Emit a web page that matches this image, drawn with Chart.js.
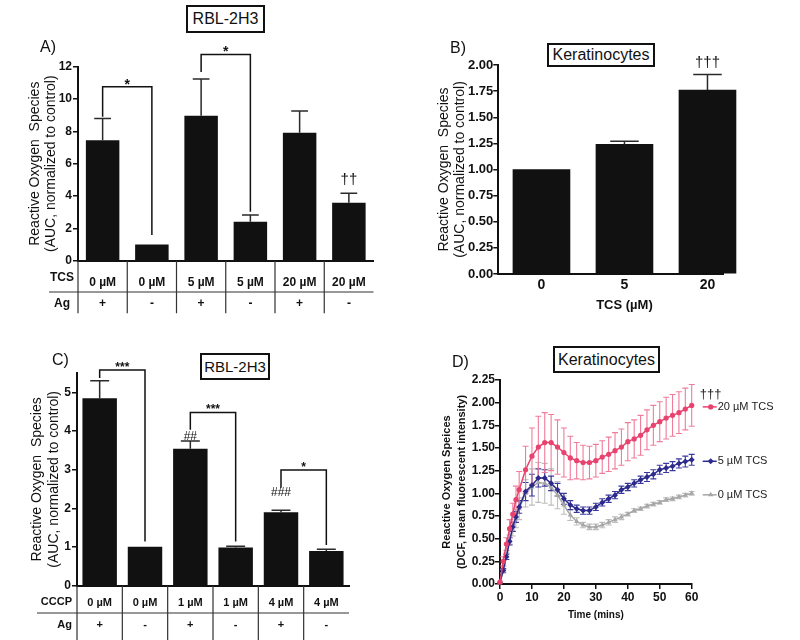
<!DOCTYPE html>
<html lang="en">
<head>
<meta charset="UTF-8">
<script src="https://cdn.jsdelivr.net/npm/chart.js"></script>
<style>
  body { margin: 0; background: #fff; width: 800px; height: 640px; position: relative; overflow: hidden;
         font-family: "Liberation Sans", Arial, sans-serif; color: #111; }
  canvas { position: absolute; }
  .box { position: absolute; border: 2px solid #111; box-sizing: border-box; text-align: center; background: #fff; }
  .tag { position: absolute; font-size: 16px; line-height: 18px; }
</style>
<title>ROS panels</title>
</head>
<body>

<canvas id="chartA" width="400" height="330" style="left:0;top:0"></canvas>
<canvas id="chartB" width="400" height="330" style="left:400px;top:0"></canvas>
<canvas id="chartC" width="400" height="310" style="left:0;top:330px"></canvas>
<canvas id="chartD" width="400" height="310" style="left:400px;top:330px"></canvas>

<div class="box" style="left:186px;top:5px;width:79px;height:28px;font-size:16px;line-height:24px">RBL-2H3</div>
<div class="box" style="left:547px;top:43px;width:108px;height:24px;font-size:16px;line-height:20px">Keratinocytes</div>
<div class="box" style="left:200px;top:353px;width:70px;height:27px;font-size:15px;line-height:23px">RBL-2H3</div>
<div class="box" style="left:553px;top:346px;width:107px;height:27px;font-size:16px;line-height:23px">Keratinocytes</div>
<div class="tag" style="left:40px;top:38px">A)</div>
<div class="tag" style="left:450px;top:39px">B)</div>
<div class="tag" style="left:52px;top:351px">C)</div>
<div class="tag" style="left:452px;top:353px">D)</div>

<script>
    Chart.defaults.font.family = '"Liberation Sans", Arial, sans-serif';
    Chart.defaults.color = '#111';
    Chart.defaults.animation = false;

    // ---- A) RBL-2H3, TCS +/- antigen
    const aTcs = ['0 µM', '0 µM', '5 µM', '5 µM', '20 µM', '20 µM'];
    const aAg = ['+', '-', '+', '-', '+', '-'];
    const aRos = [7.45, 1.0, 8.97, 2.41, 7.92, 3.59];
    const aSem = [1.35, 0, 2.27, 0.42, 1.34, 0.58];
    const aTicks = [0, 2, 4, 6, 8, 10, 12];

    // ---- B) Keratinocytes, TCS dose
    const bDose = ['0', '5', '20'];
    const bRos = [1.0, 1.24, 1.76];
    const bSem = [0, 0.03, 0.15];
    const bTicks = [0, 0.25, 0.5, 0.75, 1.0, 1.25, 1.5, 1.75, 2.0];

    // ---- C) RBL-2H3, CCCP +/- antigen
    const cCccp = ['0 µM', '0 µM', '1 µM', '1 µM', '4 µM', '4 µM'];
    const cAg = ['+', '-', '+', '-', '+', '-'];
    const cRos = [4.85, 1.01, 3.54, 0.99, 1.9, 0.9];
    const cSem = [0.45, 0, 0.2, 0.03, 0.05, 0.04];
    const cTicks = [0, 1, 2, 3, 4, 5];

    // ---- D) Keratinocytes, time course
    const timeMin = [0, 1, 2, 3, 4, 5, 6, 8, 10, 12, 14, 16, 18, 20, 22, 24, 26, 28, 30,
                     32, 34, 36, 38, 40, 42, 44, 46, 48, 50, 52, 54, 56, 58, 60];
    const tcs20 = [0.02, 0.25, 0.44, 0.61, 0.77, 0.93, 1.04, 1.26, 1.41, 1.51, 1.56, 1.56, 1.51, 1.45, 1.39, 1.36, 1.34,
                   1.34, 1.36, 1.40, 1.43, 1.47, 1.51, 1.57, 1.60, 1.64, 1.70, 1.75, 1.79, 1.83, 1.86, 1.89, 1.93, 1.97];
    const tcs20Sem = [0, 0.05, 0.07, 0.1, 0.12, 0.15, 0.2, 0.26, 0.31, 0.34, 0.33, 0.31, 0.30, 0.27, 0.24, 0.2, 0.19,
                      0.18, 0.18, 0.18, 0.19, 0.2, 0.2, 0.21, 0.21, 0.22, 0.22, 0.22, 0.22, 0.23, 0.23, 0.23, 0.23, 0.23];
    const tcs5 = [0.02, 0.15, 0.30, 0.47, 0.63, 0.74, 0.85, 1.02, 1.09, 1.17, 1.17, 1.11, 1.04, 0.94, 0.87, 0.83, 0.81,
                  0.81, 0.85, 0.90, 0.94, 0.98, 1.04, 1.07, 1.11, 1.15, 1.18, 1.21, 1.26, 1.28, 1.30, 1.33, 1.35, 1.37];
    const tcs5Sem = [0, 0.02, 0.03, 0.04, 0.05, 0.06, 0.07, 0.1, 0.12, 0.1, 0.09, 0.08, 0.07, 0.06, 0.05, 0.04, 0.04,
                     0.04, 0.04, 0.04, 0.04, 0.04, 0.04, 0.04, 0.04, 0.04, 0.05, 0.05, 0.05, 0.05, 0.05, 0.05, 0.06, 0.06];
    const tcs0 = [0.02, 0.14, 0.32, 0.49, 0.60, 0.72, 0.83, 1.00, 1.07, 1.12, 1.11, 1.07, 0.98, 0.87, 0.76, 0.69, 0.65,
                  0.63, 0.63, 0.65, 0.68, 0.71, 0.74, 0.77, 0.81, 0.83, 0.86, 0.88, 0.90, 0.93, 0.94, 0.96, 0.98, 1.00];
    const tcs0Sem = [0, 0.02, 0.03, 0.05, 0.07, 0.1, 0.12, 0.15, 0.2, 0.22, 0.22, 0.2, 0.15, 0.1, 0.06, 0.04, 0.03,
                     0.03, 0.03, 0.03, 0.03, 0.03, 0.03, 0.02, 0.02, 0.02, 0.02, 0.02, 0.02, 0.02, 0.02, 0.02, 0.02, 0.02];
    const dTicksX = [0, 10, 20, 30, 40, 50, 60];
    const dTicksY = [0, 0.25, 0.5, 0.75, 1.0, 1.25, 1.5, 1.75, 2.0, 2.25];

    const yTitle = ['Reactive Oxygen  Species', '(AUC, normalized to control)'];

    // significance brackets (values in data units)
    const aBrackets = [
        { from: 0, to: 1, top: 10.76, left: 8.9, right: 1.59, text: '*' },
        { from: 2, to: 3, top: 12.76, left: 11.67, right: 3.03, text: '*' }
    ];
    const cBrackets = [
        { from: 0, to: 1, top: 5.58, left: 5.37, right: 1.14, text: '***' },
        { from: 2, to: 3, top: 4.48, left: 4.03, right: 1.14, text: '***' },
        { from: 4, to: 5, top: 2.99, left: 2.53, right: 1.05, text: '*' }
    ];

    // helpers -------------------------------------------------------
    const fixW = w => (s => { s.width = w; });
    const fixH = h => (s => { s.height = h; });
    const useTicks = list => (s => { s.ticks = list.map(v => ({ value: v })); });

    function yAxis(opts) {
        return {
            min: opts.min, max: opts.max,
            afterFit: fixW(opts.width),
            afterBuildTicks: useTicks(opts.ticks),
            ticks: { font: { size: opts.tickSize || 12, weight: 'bold' }, padding: opts.tickPad || 0, color: '#111',
                     callback: opts.fmt || (v => v) },
            grid: { display: true, drawOnChartArea: false, drawTicks: true, tickLength: 5, color: '#111', lineWidth: 1.5 },
            border: { display: true, color: '#111', width: 2 },
            title: { display: true, text: opts.title, color: '#111',
                     font: { size: opts.titleSize, weight: opts.titleWeight || 'normal', lineHeight: opts.titleLH / opts.titleSize },
                     padding: { top: opts.titleX - opts.titleLH / 2, bottom: 0 } }
        };
    }

    function barErrors(vals, sems, cap) {
        return {
            id: 'barErrors',
            afterDatasetsDraw(chart) {
                const { ctx } = chart, y = chart.scales.y;
                const meta = chart.getDatasetMeta(0);
                ctx.save();
                ctx.strokeStyle = '#2a2a2a';
                ctx.lineWidth = 1.5;
                meta.data.forEach((bar, i) => {
                    if (!sems[i]) return;
                    const top = y.getPixelForValue(vals[i] + sems[i]);
                    const half = bar.width * cap / 2;
                    ctx.beginPath();
                    ctx.moveTo(bar.x, bar.y);
                    ctx.lineTo(bar.x, top);
                    ctx.moveTo(bar.x - half, top);
                    ctx.lineTo(bar.x + half, top);
                    ctx.stroke();
                });
                ctx.restore();
            }
        };
    }

    function brackets(list, font, dy) {
        return {
            id: 'brackets',
            afterDatasetsDraw(chart) {
                const { ctx, scales: { x, y } } = chart;
                ctx.save();
                ctx.strokeStyle = '#111';
                ctx.fillStyle = '#111';
                ctx.lineWidth = 1.5;
                ctx.font = font;
                ctx.textAlign = 'center';
                ctx.textBaseline = 'alphabetic';
                list.forEach(b => {
                    const x1 = x.getPixelForValue(b.from), x2 = x.getPixelForValue(b.to);
                    const yt = y.getPixelForValue(b.top);
                    ctx.beginPath();
                    ctx.moveTo(x1, y.getPixelForValue(b.left));
                    ctx.lineTo(x1, yt);
                    ctx.lineTo(x2, yt);
                    ctx.lineTo(x2, y.getPixelForValue(b.right));
                    ctx.stroke();
                    ctx.fillText(b.text, (x1 + x2) / 2, yt + dy);
                });
                ctx.restore();
            }
        };
    }

    function marks(list, font) {
        return {
            id: 'marks',
            afterDatasetsDraw(chart) {
                const { ctx, scales: { x, y } } = chart;
                ctx.save();
                ctx.fillStyle = '#111';
                ctx.font = font;
                ctx.textAlign = 'center';
                ctx.textBaseline = 'middle';
                list.forEach(m => ctx.fillText(m.text, x.getPixelForValue(m.at), y.getPixelForValue(m.value)));
                ctx.restore();
            }
        };
    }

    // treatment table under the x axis
    function table(cfg) {
        return {
            id: 'table',
            afterDraw(chart) {
                const { ctx, chartArea: ca, scales: { x } } = chart;
                const n = cfg.rows[0].length;
                const cw = (ca.right - ca.left) / n;
                ctx.save();
                ctx.strokeStyle = '#333';
                ctx.lineWidth = 1.2;
                ctx.beginPath();
                for (let i = 0; i < n; i++) {
                    const bx = x.getPixelForValue(i) - cw / 2;
                    ctx.moveTo(bx, ca.bottom);
                    ctx.lineTo(bx, ca.bottom + cfg.vDown);
                }
                ctx.moveTo(cfg.sepX0, ca.bottom + cfg.sepDy);
                ctx.lineTo(ca.right, ca.bottom + cfg.sepDy);
                ctx.stroke();
                ctx.fillStyle = '#111';
                ctx.font = cfg.font;
                ctx.textBaseline = 'middle';
                cfg.heads.forEach((h, r) => {
                    ctx.textAlign = cfg.headAlign;
                    ctx.fillText(h, cfg.headX, ca.bottom + cfg.headDy[r]);
                    ctx.textAlign = 'center';
                    cfg.rows[r].forEach((t, i) => ctx.fillText(t, x.getPixelForValue(i), ca.bottom + cfg.rowDy[r]));
                });
                ctx.restore();
            }
        };
    }

    // ---- A
    new Chart(document.getElementById('chartA'), {
        type: 'bar',
        data: {
            labels: aTcs.map((t, i) => t + ' ' + aAg[i]),
            datasets: [{ data: aRos, backgroundColor: '#111', categoryPercentage: 1, barPercentage: 0.68 }]
        },
        options: {
            responsive: false,
            layout: { padding: { left: 0, top: 66.7, right: 26.5, bottom: 0 } },
            plugins: { legend: { display: false }, tooltip: { enabled: false } },
            scales: {
                x: { offset: true, afterFit: fixH(69.3), ticks: { display: false },
                     grid: { display: false, drawTicks: false }, border: { display: true, color: '#111', width: 2 } },
                y: yAxis({ min: 0, max: 12, width: 78, ticks: aTicks, tickPad: 1, title: yTitle, titleSize: 14, titleLH: 16, titleX: 35.5 })
            }
        },
        plugins: [
            barErrors(aRos, aSem, 0.5),
            brackets(aBrackets, 'bold 14px "Liberation Sans", Arial', 2),
            marks([{ at: 5, value: 4.99, text: '††' }], '15px "Liberation Sans", Arial'),
            table({ heads: ['TCS', 'Ag'], rows: [aTcs, aAg], headX: 62, headAlign: 'center', headDy: [16.5, 43],
                    rowDy: [21.5, 42.5], sepDy: 31.3, sepX0: 49, vDown: 52.5, font: 'bold 12px "Liberation Sans", Arial' })
        ]
    });

    // ---- B
    new Chart(document.getElementById('chartB'), {
        type: 'bar',
        data: {
            datasets: [{ data: bRos.map((v, i) => ({ x: i, y: v })), backgroundColor: '#111', barThickness: 57, clip: false }]
        },
        options: {
            responsive: false,
            layout: { padding: { left: 0, top: 65, right: 77, bottom: 0 } },
            plugins: { legend: { display: false }, tooltip: { enabled: false } },
            scales: {
                x: { type: 'linear', offset: false, min: -0.52, max: 2.187, afterFit: fixH(56), afterBuildTicks: useTicks([0, 1, 2]),
                     ticks: { font: { size: 14, weight: 'bold' }, padding: 3, color: '#111', callback: v => bDose[v] },
                     grid: { display: false, drawTicks: false }, border: { display: true, color: '#111', width: 2 } },
                y: yAxis({ min: 0, max: 2, width: 98.3, ticks: bTicks, fmt: v => v.toFixed(2), tickSize: 13,
                           title: yTitle, titleSize: 14, titleLH: 16.5, titleX: 44 })
            }
        },
        plugins: [
            barErrors(bRos, bSem, 0.5),
            marks([{ at: 2, value: 2.02, text: '†††' }], '15px "Liberation Sans", Arial'),
            {
                id: 'xTitle',
                afterDraw(chart) {
                    const { ctx, scales: { x } } = chart;
                    ctx.save();
                    ctx.font = 'bold 13px "Liberation Sans", Arial';
                    ctx.fillStyle = '#111';
                    ctx.textAlign = 'center';
                    ctx.textBaseline = 'middle';
                    ctx.fillText('TCS (µM)', x.getPixelForValue(1), 305);
                    ctx.restore();
                }
            }
        ]
    });

    // ---- C
    new Chart(document.getElementById('chartC'), {
        type: 'bar',
        data: {
            labels: cCccp.map((t, i) => t + ' ' + cAg[i]),
            datasets: [{ data: cRos, backgroundColor: '#111', categoryPercentage: 1, barPercentage: 0.76 }]
        },
        options: {
            responsive: false,
            layout: { padding: { left: 0, top: 43, right: 51, bottom: 0 } },
            plugins: { legend: { display: false }, tooltip: { enabled: false } },
            scales: {
                x: { offset: true, afterFit: fixH(54.3), ticks: { display: false },
                     grid: { display: false, drawTicks: false }, border: { display: true, color: '#111', width: 2 } },
                y: yAxis({ min: 0, max: 5.5, width: 77, ticks: cTicks, tickPad: 1, title: yTitle, titleSize: 14, titleLH: 17, titleX: 37.5 })
            }
        },
        plugins: [
            barErrors(cRos, cSem, 0.55),
            brackets(cBrackets, 'bold 12px "Liberation Sans", Arial', 1),
            marks([{ at: 2, value: 3.85, text: '##' }, { at: 4, value: 2.4, text: '###' }], '12px "Liberation Sans", Arial'),
            table({ heads: ['CCCP', 'Ag'], rows: [cCccp, cAg], headX: 72, headAlign: 'right', headDy: [16, 39.5],
                    rowDy: [17.3, 39.3], sepDy: 27.3, sepX0: 37, vDown: 55, font: 'bold 11px "Liberation Sans", Arial' })
        ]
    });

    // ---- D
    const dSeries = [
        { label: '20 µM TCS', vals: tcs20, sem: tcs20Sem, color: '#e8436e', err: '#f07c9a', style: 'circle', r: 2.6 },
        { label: '5 µM TCS', vals: tcs5, sem: tcs5Sem, color: '#2c2a8a', err: '#3a389a', style: 'rectRot', r: 3 },
        { label: '0 µM TCS', vals: tcs0, sem: tcs0Sem, color: '#a6a6a6', err: '#bdbdbd', style: 'triangle', r: 3 }
    ];

    new Chart(document.getElementById('chartD'), {
        type: 'line',
        data: {
            datasets: dSeries.map(s => ({
                label: s.label,
                data: timeMin.map((t, i) => ({ x: t, y: s.vals[i] })),
                borderColor: s.color, backgroundColor: s.color, borderWidth: 1.5,
                pointStyle: s.style, pointRadius: s.r, pointBorderWidth: 0, tension: 0, clip: false
            }))
        },
        options: {
            responsive: false,
            layout: { padding: { left: 0, top: 50, right: 108.3, bottom: 0 } },
            plugins: { legend: { display: false }, tooltip: { enabled: false } },
            scales: {
                x: { type: 'linear', min: 0, max: 60, afterFit: fixH(56), afterBuildTicks: useTicks(dTicksX),
                     ticks: { font: { size: 12, weight: 'bold' }, padding: 1, color: '#111' },
                     grid: { display: true, drawOnChartArea: false, drawTicks: true, tickLength: 5, color: '#111', lineWidth: 1.5 },
                     border: { display: true, color: '#111', width: 2 },
                     title: { display: true, text: 'Time (mins)', color: '#111', font: { size: 10, weight: 'bold' },
                              padding: { top: 0, bottom: 19 } } },
                y: yAxis({ min: 0, max: 2.25, width: 100, ticks: dTicksY, fmt: v => v.toFixed(2),
                           title: ['Reactive Oxygen Speices', '(DCF, mean fluorescent intensity)'],
                           titleSize: 11, titleWeight: 'bold', titleLH: 15, titleX: 46.7 })
            }
        },
        plugins: [
            {
                id: 'lineErrors',
                beforeDatasetsDraw(chart) {
                    const { ctx, scales: { y } } = chart;
                    ctx.save();
                    ctx.lineWidth = 1.1;
                    for (let d = dSeries.length - 1; d >= 0; d--) {
                        const s = dSeries[d];
                        ctx.strokeStyle = s.err;
                        chart.getDatasetMeta(d).data.forEach((p, i) => {
                            if (!s.sem[i]) return;
                            const hi = y.getPixelForValue(s.vals[i] + s.sem[i]);
                            const lo = y.getPixelForValue(s.vals[i] - s.sem[i]);
                            ctx.beginPath();
                            ctx.moveTo(p.x, hi); ctx.lineTo(p.x, lo);
                            ctx.moveTo(p.x - 3, hi); ctx.lineTo(p.x + 3, hi);
                            ctx.moveTo(p.x - 3, lo); ctx.lineTo(p.x + 3, lo);
                            ctx.stroke();
                        });
                    }
                    ctx.restore();
                }
            },
            {
                id: 'endLegend',
                afterDraw(chart) {
                    const { ctx, chartArea: ca } = chart;
                    ctx.save();
                    ctx.font = '11px "Liberation Sans", Arial';
                    ctx.textBaseline = 'middle';
                    dSeries.forEach((s, d) => {
                        const pts = chart.getDatasetMeta(d).data;
                        const ly = pts[pts.length - 1].y + 1.5;
                        const lx = ca.right + 11;
                        ctx.strokeStyle = s.color;
                        ctx.fillStyle = s.color;
                        ctx.lineWidth = 1.5;
                        ctx.beginPath(); ctx.moveTo(lx, ly); ctx.lineTo(lx + 14, ly); ctx.stroke();
                        Chart.helpers.drawPoint(ctx, { pointStyle: s.style, radius: s.r, borderWidth: 0 }, lx + 8, ly);
                        ctx.fillStyle = '#222';
                        ctx.textAlign = 'left';
                        ctx.fillText(s.label, lx + 15, ly);
                        if (d === 0) {
                            ctx.textAlign = 'center';
                            ctx.font = '13px "Liberation Sans", Arial';
                            ctx.fillText('†††', lx + 8, ly - 12);
                            ctx.font = '11px "Liberation Sans", Arial';
                        }
                    });
                    ctx.restore();
                }
            }
        ]
    });
</script>

</body>
</html>
